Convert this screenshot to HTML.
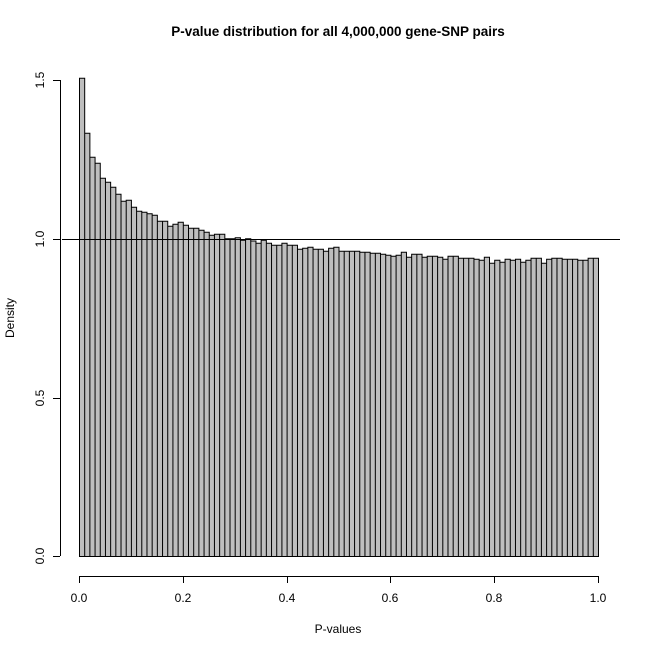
<!DOCTYPE html><html><head><style>body{margin:0;background:#fff}svg{display:block}text{font-family:"Liberation Sans",Arial,sans-serif;font-size:12px}</style></head><body>
<svg width="650" height="650" xmlns="http://www.w3.org/2000/svg">
<rect width="650" height="650" fill="#fff"/>
<text x="338" y="36" text-anchor="middle" font-weight="bold" style="font-size:13.5px">P-value distribution for all 4,000,000 gene-SNP pairs</text>
<path fill="#bebebe" stroke="#000" stroke-width="1" d="
M79.5 556.5V78.3h5.19V556.5Z
M84.69 556.5V133.3h5.19V556.5Z
M89.88 556.5V157.3h5.19V556.5Z
M95.07 556.5V163.3h5.19V556.5Z
M100.26 556.5V178.3h5.19V556.5Z
M105.45 556.5V182.3h5.19V556.5Z
M110.64 556.5V187.3h5.19V556.5Z
M115.83 556.5V194.3h5.19V556.5Z
M121.02 556.5V201.3h5.19V556.5Z
M126.21 556.5V200.3h5.19V556.5Z
M131.4 556.5V207.3h5.19V556.5Z
M136.59 556.5V211.3h5.19V556.5Z
M141.78 556.5V212.3h5.19V556.5Z
M146.97 556.5V213.7h5.19V556.5Z
M152.16 556.5V215.3h5.19V556.5Z
M157.35 556.5V221.3h5.19V556.5Z
M162.54 556.5V221.3h5.19V556.5Z
M167.73 556.5V226.3h5.19V556.5Z
M172.92 556.5V224.3h5.19V556.5Z
M178.11 556.5V222.3h5.19V556.5Z
M183.3 556.5V225.3h5.19V556.5Z
M188.49 556.5V228.3h5.19V556.5Z
M193.68 556.5V228.3h5.19V556.5Z
M198.87 556.5V230.3h5.19V556.5Z
M204.06 556.5V232.3h5.19V556.5Z
M209.25 556.5V235.3h5.19V556.5Z
M214.44 556.5V234.3h5.19V556.5Z
M219.63 556.5V234.3h5.19V556.5Z
M224.82 556.5V238.7h5.19V556.5Z
M230.01 556.5V238.7h5.19V556.5Z
M235.2 556.5V237.7h5.19V556.5Z
M240.39 556.5V240.3h5.19V556.5Z
M245.58 556.5V238.7h5.19V556.5Z
M250.77 556.5V241h5.19V556.5Z
M255.96 556.5V243.3h5.19V556.5Z
M261.15 556.5V240.3h5.19V556.5Z
M266.34 556.5V243.3h5.19V556.5Z
M271.53 556.5V245.3h5.19V556.5Z
M276.72 556.5V245.3h5.19V556.5Z
M281.91 556.5V243.3h5.19V556.5Z
M287.1 556.5V245.3h5.19V556.5Z
M292.29 556.5V245.3h5.19V556.5Z
M297.48 556.5V249.3h5.19V556.5Z
M302.67 556.5V248.3h5.19V556.5Z
M307.86 556.5V247.3h5.19V556.5Z
M313.05 556.5V249.3h5.19V556.5Z
M318.24 556.5V249.3h5.19V556.5Z
M323.43 556.5V251.3h5.19V556.5Z
M328.62 556.5V248.3h5.19V556.5Z
M333.81 556.5V247.3h5.19V556.5Z
M339 556.5V251.3h5.19V556.5Z
M344.19 556.5V251.3h5.19V556.5Z
M349.38 556.5V251.3h5.19V556.5Z
M354.57 556.5V251.3h5.19V556.5Z
M359.76 556.5V252.3h5.19V556.5Z
M364.95 556.5V252.3h5.19V556.5Z
M370.14 556.5V253.3h5.19V556.5Z
M375.33 556.5V253.3h5.19V556.5Z
M380.52 556.5V254.3h5.19V556.5Z
M385.71 556.5V255.3h5.19V556.5Z
M390.9 556.5V256.3h5.19V556.5Z
M396.09 556.5V255.3h5.19V556.5Z
M401.28 556.5V252.3h5.19V556.5Z
M406.47 556.5V257.3h5.19V556.5Z
M411.66 556.5V254.3h5.19V556.5Z
M416.85 556.5V254.3h5.19V556.5Z
M422.04 556.5V257.3h5.19V556.5Z
M427.23 556.5V256.3h5.19V556.5Z
M432.42 556.5V256.3h5.19V556.5Z
M437.61 556.5V257.3h5.19V556.5Z
M442.8 556.5V259.3h5.19V556.5Z
M447.99 556.5V256.3h5.19V556.5Z
M453.18 556.5V256.3h5.19V556.5Z
M458.37 556.5V258.3h5.19V556.5Z
M463.56 556.5V258.3h5.19V556.5Z
M468.75 556.5V258.3h5.19V556.5Z
M473.94 556.5V259.3h5.19V556.5Z
M479.13 556.5V260.3h5.19V556.5Z
M484.32 556.5V257.3h5.19V556.5Z
M489.51 556.5V263.3h5.19V556.5Z
M494.7 556.5V260.3h5.19V556.5Z
M499.89 556.5V262.3h5.19V556.5Z
M505.08 556.5V259.3h5.19V556.5Z
M510.27 556.5V260.3h5.19V556.5Z
M515.46 556.5V259.3h5.19V556.5Z
M520.65 556.5V262.3h5.19V556.5Z
M525.84 556.5V260.3h5.19V556.5Z
M531.03 556.5V258.3h5.19V556.5Z
M536.22 556.5V258.3h5.19V556.5Z
M541.41 556.5V263.3h5.19V556.5Z
M546.6 556.5V259.3h5.19V556.5Z
M551.79 556.5V258.3h5.19V556.5Z
M556.98 556.5V258.3h5.19V556.5Z
M562.17 556.5V259.3h5.19V556.5Z
M567.36 556.5V259.3h5.19V556.5Z
M572.55 556.5V259.3h5.19V556.5Z
M577.74 556.5V260.3h5.19V556.5Z
M582.93 556.5V260.3h5.19V556.5Z
M588.12 556.5V258.3h5.19V556.5Z
M593.31 556.5V258.3h5.19V556.5Z"/>
<line x1="62" y1="239.5" x2="620" y2="239.5" stroke="#000" stroke-width="1"/>
<g stroke="#000" stroke-width="1" fill="none">
<line x1="79" y1="576.5" x2="598" y2="576.5"/>
<line x1="79.5" y1="576" x2="79.5" y2="583"/><line x1="183.5" y1="576" x2="183.5" y2="583"/><line x1="287.5" y1="576" x2="287.5" y2="583"/><line x1="390.5" y1="576" x2="390.5" y2="583"/><line x1="494.5" y1="576" x2="494.5" y2="583"/><line x1="598.5" y1="576" x2="598.5" y2="583"/>
<line x1="60.5" y1="80" x2="60.5" y2="556"/>
<line x1="53" y1="556.5" x2="60" y2="556.5"/><line x1="53" y1="398.5" x2="60" y2="398.5"/><line x1="53" y1="239.5" x2="60" y2="239.5"/><line x1="53" y1="80.5" x2="60" y2="80.5"/>
</g>
<g text-anchor="middle">
<text x="79" y="602">0.0</text><text x="183" y="602">0.2</text><text x="287" y="602">0.4</text><text x="390" y="602">0.6</text><text x="494" y="602">0.8</text><text x="598" y="602">1.0</text>
<text x="338" y="633">P-values</text>
<text transform="translate(44,556) rotate(-90)">0.0</text><text transform="translate(44,398) rotate(-90)">0.5</text><text transform="translate(44,239) rotate(-90)">1.0</text><text transform="translate(44,80) rotate(-90)">1.5</text>
<text transform="translate(14,318) rotate(-90)">Density</text>
</g>
</svg>
</body></html>
